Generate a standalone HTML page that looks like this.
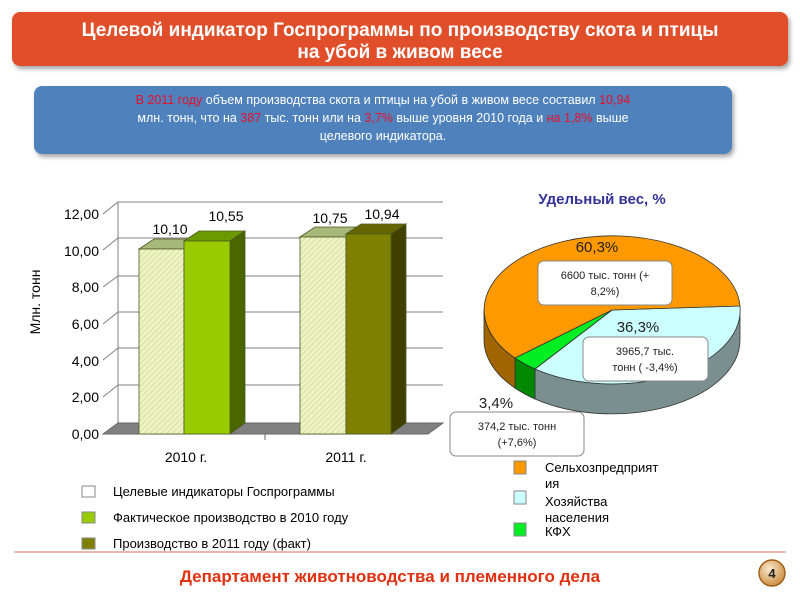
<!DOCTYPE html>
<html><head><meta charset="utf-8"><style>body{margin:0;background:#fff}svg{display:block}text{font-family:"Liberation Sans",sans-serif}</style></head><body>
<svg width="800" height="600" viewBox="0 0 800 600" xmlns="http://www.w3.org/2000/svg">
<defs>
<pattern id="h" width="4" height="4" patternUnits="userSpaceOnUse" patternTransform="rotate(45)"><rect width="4" height="4" fill="#EEF3C4"/><line x1="0" y1="0" x2="0" y2="4" stroke="#C8D48A" stroke-width="1.2"/></pattern>
<radialGradient id="cg" cx="40%" cy="35%" r="70%"><stop offset="0" stop-color="#FBE9CF"/><stop offset="1" stop-color="#C98A3A"/></radialGradient>
<filter id="sh" x="-5%" y="-10%" width="110%" height="130%"><feDropShadow dx="2" dy="3" stdDeviation="2" flood-color="#000" flood-opacity="0.35"/></filter>
</defs>
<rect x="12" y="12" width="776" height="54" rx="8" fill="#E0502A" filter="url(#sh)"/>
<text x="400" y="36" font-size="19" font-weight="bold" fill="#fff" text-anchor="middle">Целевой индикатор Госпрограммы по производству скота и птицы</text>
<text x="400" y="58" font-size="19" font-weight="bold" fill="#fff" text-anchor="middle">на убой в живом весе</text>
<rect x="34" y="86" width="698" height="68" rx="8" fill="#4F81BD" filter="url(#sh)"/>
<g font-size="12.5" fill="#fff" text-anchor="middle">
<text x="383" y="104"><tspan fill="#E8102A">В 2011 году</tspan>  объем производства скота и птицы на убой в живом весе составил <tspan fill="#E8102A">10,94</tspan></text>
<text x="383" y="122">млн. тонн, что на <tspan fill="#E8102A">387</tspan> тыс. тонн или на  <tspan fill="#E8102A">3,7%</tspan>  выше уровня 2010 года и <tspan fill="#E8102A">на 1,8%</tspan> выше</text>
<text x="383" y="140">целевого индикатора.</text>
</g>
<g stroke="#808080" stroke-width="1" fill="none">
<path d="M103 214 L118 202 H443"/><path d="M103 250 L118 238 H443"/><path d="M103 287 L118 276 H443"/><path d="M103 324 L118 312 H443"/><path d="M103 360 L118 348 H443"/><path d="M103 397 L118 385 H443"/>
<path d="M118 202 V423"/>
</g>
<polygon points="103,434 428,434 443,423 118,423" fill="#808080" stroke="#666"/>
<g font-size="14" fill="#000" text-anchor="end">
<text x="99" y="219">12,00</text><text x="99" y="256">10,00</text><text x="99" y="292">8,00</text><text x="99" y="329">6,00</text><text x="99" y="366">4,00</text><text x="99" y="402">2,00</text><text x="99" y="439">0,00</text>
</g>
<text transform="translate(40,302) rotate(-90)" font-size="14" text-anchor="middle" fill="#000">Млн. тонн</text>
<g stroke="#4a5a20" stroke-width="0.8">
<polygon points="139,249 154,239 199,239 184,249" fill="#A8B878"/>
<rect x="139" y="249" width="45" height="185" fill="url(#h)"/>
<polygon points="184,241 199,231 245,231 230,241" fill="#6B9A00"/>
<polygon points="230,241 245,231 245,423 230,434" fill="#4A6600"/>
<rect x="184" y="241" width="46" height="193" fill="#99CC00"/>
<polygon points="300,237 315,227 361,227 346,237" fill="#A8B878"/>
<rect x="300" y="237" width="46" height="197" fill="url(#h)"/>
<polygon points="346,234 361,224 406,224 391,234" fill="#666600"/>
<polygon points="391,234 406,224 406,423 391,434" fill="#404000"/>
<rect x="346" y="234" width="45" height="200" fill="#808000"/>
</g>
<g font-size="14" fill="#000" text-anchor="middle">
<text x="170" y="234">10,10</text><text x="226" y="221">10,55</text><text x="330" y="223">10,75</text><text x="382" y="219">10,94</text>
<text x="186" y="462">2010 г.</text><text x="346" y="462">2011 г.</text>
</g>
<line x1="265" y1="434" x2="265" y2="440" stroke="#666"/>
<text x="602" y="204" font-size="15" font-weight="bold" fill="#333399" text-anchor="middle">Удельный вес, %</text>
<g stroke="#333" stroke-width="0.8">
<path d="M740,310 A128,74 0 0 1 535,369 L535,399 A128,74 0 0 0 740,340 Z" fill="#7A9090"/>
<path d="M535,369 A128,74 0 0 1 515,358 L515,388 A128,74 0 0 0 535,399 Z" fill="#008800"/>
<path d="M515,358 A128,74 0 0 1 484,310 L484,340 A128,74 0 0 0 515,388 Z" fill="#A06400"/>
<path d="M612,310 L740,306 A128,74 0 0 1 535,369 Z" fill="#CCFFFF"/>
<path d="M612,310 L535,369 A128,74 0 0 1 515,358 Z" fill="#00EE22"/>
<path d="M612,310 L515,358 A128,74 0 1 1 740,306 Z" fill="#FF9900"/>
</g>
<g font-size="15" fill="#222" text-anchor="middle">
<text x="597" y="252">60,3%</text><text x="638" y="332">36,3%</text><text x="496" y="408">3,4%</text>
</g>
<g fill="#fff" stroke="#888" stroke-width="1">
<rect x="538" y="261" width="134" height="44" rx="6"/><rect x="583" y="337" width="125" height="44" rx="6"/><rect x="450" y="412" width="134" height="44" rx="6"/>
</g>
<g font-size="11" fill="#222" text-anchor="middle">
<text x="605" y="279">6600 тыс. тонн (+</text><text x="605" y="295">8,2%)</text>
<text x="645" y="355">3965,7 тыс.</text><text x="645" y="371">тонн ( -3,4%)</text>
<text x="517" y="430">374,2 тыс. тонн</text><text x="517" y="446">(+7,6%)</text>
</g>
<g stroke="#888" stroke-width="1">
<rect x="514" y="461" width="12" height="13" fill="#FF9900"/><rect x="514" y="491" width="12" height="13" fill="#CCFFFF"/><rect x="514" y="523" width="12" height="13" fill="#00EE22"/>
<rect x="82" y="486" width="13" height="11" fill="#fff"/><rect x="82" y="512" width="13" height="11" fill="#99CC00"/><rect x="82" y="538" width="13" height="11" fill="#808000"/>
</g>
<g font-size="13" fill="#000">
<text x="545" y="472">Сельхозпредприят</text><text x="545" y="488">ия</text><text x="545" y="506">Хозяйства</text><text x="545" y="522">населения</text><text x="545" y="536">КФХ</text>
<text x="113" y="496">Целевые индикаторы Госпрограммы</text><text x="113" y="522">Фактическое производство в 2010 году</text><text x="113" y="548">Производство в 2011 году (факт)</text>
</g>
<line x1="14" y1="552" x2="786" y2="552" stroke="#E0A090" stroke-width="1.5"/>
<text x="390" y="582" font-size="17" font-weight="bold" fill="#E03010" text-anchor="middle">Департамент животноводства и племенного дела</text>
<circle cx="772" cy="573" r="13" fill="url(#cg)" stroke="#A0601A" stroke-width="1.5"/>
<text x="772" y="578" font-size="13" font-family="Liberation Serif,serif" font-weight="bold" text-anchor="middle" fill="#222">4</text>
</svg>
</body></html>
